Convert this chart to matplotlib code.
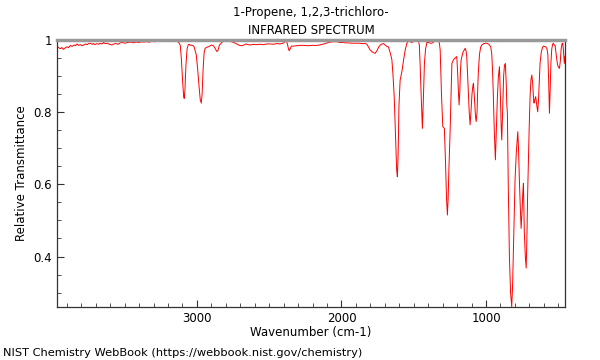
import numpy as np
import matplotlib
matplotlib.use("Agg")
import matplotlib.pyplot as plt
from matplotlib.ticker import MultipleLocator, FuncFormatter

title_lines = ["1-Propene, 1,2,3-trichloro-", "INFRARED SPECTRUM"]
x_label = "Wavenumber (cm-1)"
y_label = "Relative Transmittance"
footer = "NIST Chemistry WebBook (https://webbook.nist.gov/chemistry)"

# wavenumber (cm-1) and transmittance
wavenumber = [
    3966, 3955, 3945, 3935, 3923, 3912, 3899, 3888, 3876, 3865, 3850, 3840,
    3830, 3818, 3805, 3795, 3784, 3770, 3760, 3750, 3738, 3725, 3715, 3705,
    3692, 3680, 3668, 3656, 3646, 3634, 3620, 3605, 3588, 3575, 3560, 3545,
    3531, 3515, 3500, 3480, 3461, 3440, 3420, 3400, 3380, 3369, 3350, 3330,
    3310, 3290, 3277, 3260, 3240, 3220, 3200, 3185, 3160, 3138, 3125, 3115,
    3108, 3104, 3098, 3092, 3088, 3083, 3076, 3068, 3060, 3052, 3045, 3035,
    3020, 3005, 2995, 2985, 2977, 2970, 2964, 2957, 2950, 2943, 2930, 2915,
    2900, 2885, 2872, 2862, 2855, 2845, 2827, 2800, 2780, 2760, 2740, 2720,
    2705, 2689, 2675, 2660, 2645, 2631, 2610, 2590, 2562, 2540, 2515, 2493,
    2470, 2450, 2424, 2405, 2396, 2389, 2382, 2375, 2368, 2362, 2355, 2346,
    2332, 2310, 2290, 2260, 2230, 2200, 2170, 2140, 2113, 2090, 2078, 2055,
    2032, 2010, 1990, 1974, 1950, 1930, 1905, 1880, 1855, 1835, 1824, 1812,
    1801, 1790, 1780, 1767, 1755, 1740, 1725, 1709, 1695, 1682, 1675, 1663,
    1651, 1643, 1635, 1625, 1618, 1613, 1608, 1602, 1594, 1582, 1570, 1559,
    1548, 1536, 1525, 1513, 1500, 1485, 1467, 1461, 1456, 1448, 1440, 1433,
    1426, 1418, 1409, 1395, 1385, 1375, 1360, 1345, 1329, 1322, 1317, 1308,
    1299, 1292, 1288, 1280, 1273, 1267, 1262, 1256, 1248, 1242, 1236, 1225,
    1213, 1202, 1195, 1190, 1186, 1181, 1176, 1172, 1160, 1144, 1138, 1133,
    1125, 1116, 1110, 1104, 1097, 1090, 1087, 1080, 1073, 1068, 1062, 1056,
    1052, 1045, 1037, 1029, 1015, 1000, 994, 980, 967, 960, 955, 949,
    942, 935, 929, 921, 914, 907, 900, 895, 891, 885, 878, 872,
    866, 860, 856, 852, 846, 838, 830, 822, 816, 810, 804, 799,
    790, 780, 775, 769, 763, 757, 750, 745, 741, 735, 728, 722,
    717, 712, 707, 701, 695, 689, 683, 677, 670, 667, 662, 656,
    649, 642, 636, 630, 626, 618, 610, 603, 595, 586, 578, 572,
    566, 561, 556, 551, 545, 539, 534, 528, 522, 516, 510, 504,
    498, 492, 486, 480, 474, 469, 464, 458, 453,
]
transmittance = [
    0.982, 0.978, 0.976, 0.979, 0.974, 0.978, 0.981, 0.979, 0.985, 0.982, 0.986, 0.984,
    0.989, 0.985, 0.987, 0.984, 0.986, 0.989, 0.987, 0.990, 0.991, 0.988, 0.990, 0.987,
    0.990, 0.988, 0.991, 0.989, 0.993, 0.990, 0.991, 0.988, 0.986, 0.989, 0.990, 0.988,
    0.992, 0.993, 0.991, 0.993, 0.994, 0.992, 0.994, 0.993, 0.995, 0.994, 0.995, 0.994,
    0.996, 0.995, 0.997, 0.996, 0.997, 0.996, 0.997, 0.997, 0.996, 0.996, 0.993, 0.985,
    0.950, 0.922, 0.880, 0.845, 0.838, 0.860, 0.930, 0.975, 0.987, 0.988, 0.985, 0.986,
    0.982, 0.960, 0.920, 0.870, 0.835, 0.825, 0.850, 0.920, 0.965, 0.977, 0.980, 0.982,
    0.986, 0.984, 0.975, 0.968, 0.970, 0.985, 0.994, 0.997, 0.996, 0.995, 0.992, 0.988,
    0.985, 0.984, 0.986, 0.989, 0.987, 0.986, 0.988, 0.987, 0.988, 0.987, 0.989, 0.989,
    0.988, 0.990, 0.989, 0.991, 0.993, 1.000, 0.998, 0.990, 0.978, 0.970, 0.975, 0.983,
    0.983, 0.984, 0.985, 0.985, 0.984, 0.985, 0.985, 0.987, 0.990, 0.993, 0.994, 0.995,
    0.995, 0.993, 0.993, 0.992, 0.992, 0.991, 0.991, 0.991, 0.990, 0.990, 0.988, 0.980,
    0.972, 0.968, 0.965, 0.963, 0.970, 0.982, 0.988, 0.990, 0.985, 0.981, 0.981, 0.965,
    0.945, 0.900, 0.843, 0.720, 0.640, 0.621, 0.680, 0.820, 0.889, 0.912, 0.945, 0.972,
    0.990, 0.998, 0.995, 0.993, 0.997, 0.998, 0.998, 0.985, 0.935, 0.840, 0.755, 0.840,
    0.935, 0.975, 0.993, 0.993, 0.991, 0.991, 0.995, 0.998, 0.998, 0.990, 0.972, 0.850,
    0.760, 0.757, 0.755, 0.660, 0.560, 0.515, 0.560, 0.650, 0.751, 0.843, 0.935, 0.945,
    0.950, 0.954, 0.900, 0.850, 0.820, 0.860, 0.920, 0.945, 0.965, 0.977, 0.970, 0.954,
    0.880, 0.800, 0.765, 0.800, 0.850, 0.875, 0.880, 0.840, 0.790, 0.774, 0.800, 0.880,
    0.917, 0.960, 0.980, 0.986, 0.990, 0.991, 0.991, 0.988, 0.981, 0.960, 0.920, 0.843,
    0.740, 0.668, 0.740, 0.843, 0.900, 0.926, 0.840, 0.760, 0.723, 0.800, 0.900, 0.930,
    0.935, 0.880, 0.820, 0.797, 0.600, 0.400, 0.300, 0.261, 0.320, 0.427, 0.530, 0.612,
    0.690, 0.746, 0.700, 0.612, 0.540, 0.478, 0.530, 0.580, 0.603, 0.470, 0.400, 0.368,
    0.450, 0.570, 0.658, 0.760, 0.843, 0.890, 0.903, 0.880, 0.830, 0.825, 0.835, 0.843,
    0.820, 0.801, 0.840, 0.900, 0.935, 0.965, 0.978, 0.983, 0.982, 0.981, 0.975, 0.960,
    0.880, 0.797, 0.860, 0.935, 0.975, 0.988, 0.991, 0.986, 0.985, 0.965, 0.945, 0.930,
    0.925, 0.921, 0.940, 0.975, 0.990, 0.991, 0.970, 0.935, 0.955,
]

x_major = [3000, 2000, 1000]
y_major = [0.4, 0.6, 0.8, 1.0]

fig = plt.figure(figsize=(6, 3.6), dpi=100)
ax = fig.add_axes([0.095, 0.147, 0.847, 0.742])
ax.plot(wavenumber, transmittance, color="red", lw=0.7)

ax.set_xlim(3968, 452)
ax.set_ylim(0.26, 1.0)
ax.set_xticks(x_major)
ax.xaxis.set_minor_locator(MultipleLocator(100))
ax.set_yticks(y_major)
ax.yaxis.set_minor_locator(MultipleLocator(0.05))
ax.yaxis.set_major_formatter(FuncFormatter(lambda v, p: "%g" % v))
ax.tick_params(which="both", direction="in", labelsize=8.5, color="#333333")
ax.tick_params(which="major", length=5)
ax.tick_params(which="minor", length=3)

for s in ["left", "bottom", "right"]:
    ax.spines[s].set_color("#333333")
    ax.spines[s].set_linewidth(0.9)
ax.spines["top"].set_color("#999999")
ax.spines["top"].set_linewidth(2.5)

ax.set_xlabel(x_label, fontsize=8.5, labelpad=1)
ax.set_ylabel(y_label, fontsize=8.5)
ax.set_title("\n".join(title_lines), fontsize=8.5, linespacing=1.5, pad=4)
fig.text(0.005, 0.011, footer, fontsize=8.2, ha="left")

fig.savefig("out.png", dpi=100)
